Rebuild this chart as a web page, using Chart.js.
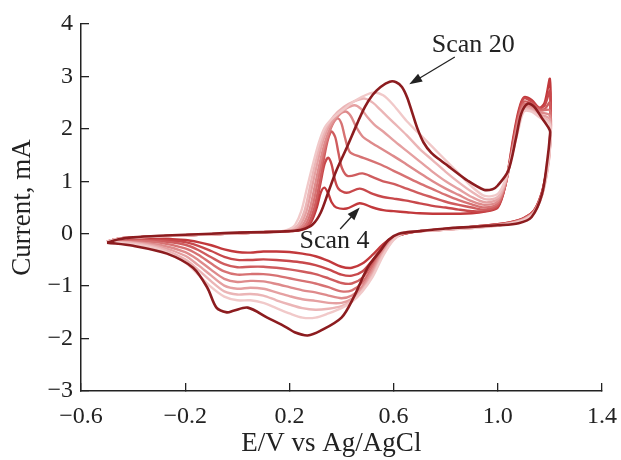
<!DOCTYPE html>
<html>
<head>
<meta charset="utf-8">
<script src="https://cdn.jsdelivr.net/npm/chart.js@4.4.1/dist/chart.umd.min.js"></script>
<style>
  html, body { margin: 0; padding: 0; background: #fff; }
  canvas { display: block; }
</style>
</head>
<body>
<canvas id="cv" width="621" height="460" style="width:621px;height:460px"></canvas>
<script>
// cyclic voltammograms, scans 4..20 (E in V vs Ag/AgCl, I in mA), points in scan order
const scan4 = [[-0.5,-0.15],[-0.45,-0.09],[-0.4,-0.07],[-0.3,-0.05],[-0.2,-0.03],[-0.1,-0.01],[0,0.01],[0.1,0.03],[0.18,0.05],
  [0.24,0.07],[0.28,0.2],[0.305,0.5],[0.32,0.78],[0.334,0.88],[0.348,0.78],[0.362,0.6],[0.38,0.5],[0.42,0.48],[0.47,0.58],[0.52,0.5],
  [0.56,0.45],[0.6,0.43],[0.65,0.41],[0.7,0.39],[0.8,0.38],[0.9,0.39],[0.95,0.42],[1.0,0.5],[1.03,0.95],[1.06,1.85],[1.08,2.35],
  [1.1,2.6],[1.13,2.55],[1.16,2.4],[1.18,2.5],[1.2,2.95],[1.2,1.75],[1.19,1.3],[1.17,0.8],[1.14,0.45],[1.1,0.3],[1.05,0.22],
  [1.0,0.18],[0.9,0.13],[0.8,0.09],[0.7,0.05],[0.64,0.0],[0.6,-0.06],[0.56,-0.2],[0.52,-0.4],[0.48,-0.57],[0.44,-0.65],[0.4,-0.63],
  [0.35,-0.52],[0.3,-0.43],[0.25,-0.38],[0.2,-0.35],[0.15,-0.34],[0.1,-0.34],[0.05,-0.36],[0,-0.35],[-0.05,-0.3],[-0.1,-0.22],
  [-0.15,-0.16],[-0.2,-0.12],[-0.3,-0.1],[-0.4,-0.12],[-0.5,-0.15]];
const scan6 = [[-0.5,-0.15],[-0.45,-0.09],[-0.4,-0.07],[-0.3,-0.05],[-0.2,-0.03],[-0.1,-0.01],[0,0.01],[0.1,0.03],[0.18,0.05],
  [0.235,0.07],[0.275,0.18],[0.3,0.5],[0.32,0.98],[0.335,1.33],[0.349,1.45],[0.362,1.32],[0.374,1.04],[0.388,0.86],[0.42,0.78],
  [0.47,0.86],[0.52,0.76],[0.56,0.7],[0.6,0.67],[0.65,0.63],[0.7,0.58],[0.75,0.53],[0.8,0.5],[0.85,0.46],[0.9,0.43],[0.95,0.43],
  [1.0,0.52],[1.03,0.95],[1.06,1.8],[1.08,2.3],[1.1,2.58],[1.13,2.52],[1.16,2.4],[1.18,2.45],[1.2,2.72],[1.2,1.72],[1.19,1.28],
  [1.17,0.8],[1.14,0.45],[1.1,0.3],[1.05,0.22],[1.0,0.18],[0.9,0.13],[0.8,0.09],[0.7,0.05],[0.64,0.0],[0.6,-0.07],[0.56,-0.24],
  [0.52,-0.5],[0.48,-0.72],[0.44,-0.8],[0.4,-0.78],[0.35,-0.68],[0.3,-0.6],[0.25,-0.55],[0.2,-0.52],[0.15,-0.5],[0.1,-0.49],
  [0.05,-0.5],[0,-0.5],[-0.05,-0.44],[-0.1,-0.33],[-0.15,-0.23],[-0.2,-0.16],[-0.3,-0.12],[-0.4,-0.13],[-0.5,-0.15]];
const scan8 = [[-0.5,-0.15],[-0.45,-0.09],[-0.4,-0.07],[-0.3,-0.05],[-0.2,-0.03],[-0.1,-0.01],[0,0.01],[0.1,0.03],[0.18,0.05],
  [0.23,0.07],[0.27,0.17],[0.295,0.48],[0.315,0.95],[0.333,1.45],[0.348,1.8],[0.362,1.95],[0.376,1.84],[0.388,1.55],[0.402,1.25],
  [0.425,1.1],[0.48,1.15],[0.52,1.08],[0.56,1.0],[0.6,0.95],[0.65,0.86],[0.7,0.77],[0.75,0.69],[0.8,0.61],[0.85,0.55],[0.9,0.5],
  [0.95,0.46],[1.0,0.55],[1.03,0.95],[1.06,1.75],[1.08,2.25],[1.1,2.52],[1.13,2.48],[1.16,2.38],[1.18,2.38],[1.2,2.5],[1.2,1.7],
  [1.19,1.27],[1.17,0.78],[1.14,0.44],[1.1,0.29],[1.05,0.21],[1.0,0.17],[0.9,0.12],[0.8,0.08],[0.7,0.05],[0.64,0.0],[0.6,-0.08],
  [0.56,-0.27],[0.52,-0.57],[0.48,-0.84],[0.44,-0.95],[0.4,-0.94],[0.35,-0.85],[0.3,-0.77],[0.25,-0.72],[0.2,-0.68],[0.15,-0.65],
  [0.1,-0.63],[0.05,-0.63],[0,-0.64],[-0.05,-0.58],[-0.1,-0.45],[-0.15,-0.31],[-0.2,-0.21],[-0.3,-0.14],[-0.4,-0.13],[-0.5,-0.15]];
const scan10 = [[-0.5,-0.15],[-0.45,-0.09],[-0.4,-0.07],[-0.3,-0.05],[-0.2,-0.03],[-0.1,-0.01],[0,0.01],[0.1,0.03],[0.18,0.05],
  [0.22,0.07],[0.26,0.16],[0.285,0.45],[0.305,0.9],[0.325,1.4],[0.345,1.8],[0.365,2.08],[0.385,2.2],[0.4,2.1],[0.413,1.84],
  [0.432,1.56],[0.47,1.47],[0.5,1.42],[0.55,1.32],[0.6,1.2],[0.65,1.08],[0.7,0.96],[0.75,0.85],[0.8,0.74],[0.85,0.64],[0.9,0.56],
  [0.95,0.5],[1.0,0.58],[1.03,0.95],[1.06,1.7],[1.08,2.2],[1.1,2.47],[1.13,2.45],[1.16,2.35],[1.2,2.35],[1.2,1.68],[1.19,1.25],
  [1.17,0.77],[1.14,0.43],[1.1,0.28],[1.05,0.21],[1.0,0.17],[0.9,0.12],[0.8,0.08],[0.7,0.05],[0.64,0.01],[0.6,-0.09],[0.56,-0.3],
  [0.52,-0.63],[0.48,-0.93],[0.44,-1.08],[0.4,-1.1],[0.35,-1.02],[0.3,-0.95],[0.25,-0.9],[0.2,-0.85],[0.15,-0.8],[0.1,-0.77],
  [0.05,-0.77],[0,-0.78],[-0.05,-0.72],[-0.1,-0.57],[-0.15,-0.4],[-0.2,-0.28],[-0.3,-0.17],[-0.4,-0.14],[-0.5,-0.15]];
const scan12 = [[-0.5,-0.15],[-0.45,-0.09],[-0.4,-0.07],[-0.3,-0.05],[-0.2,-0.03],[-0.1,-0.01],[0,0.01],[0.1,0.03],[0.18,0.05],
  [0.215,0.08],[0.25,0.16],[0.275,0.42],[0.295,0.85],[0.315,1.32],[0.335,1.72],[0.36,2.05],[0.39,2.26],[0.415,2.33],[0.435,2.25],
  [0.455,2.05],[0.48,1.86],[0.51,1.75],[0.55,1.63],[0.6,1.48],[0.65,1.32],[0.7,1.16],[0.75,1.0],[0.8,0.86],[0.85,0.74],[0.9,0.62],
  [0.95,0.55],[1.0,0.62],[1.03,0.98],[1.06,1.68],[1.08,2.15],[1.1,2.43],[1.13,2.42],[1.16,2.32],[1.2,2.25],[1.2,1.66],[1.19,1.24],
  [1.17,0.76],[1.14,0.42],[1.1,0.28],[1.05,0.2],[1.0,0.16],[0.9,0.12],[0.8,0.08],[0.7,0.05],[0.64,0.01],[0.6,-0.1],[0.56,-0.33],
  [0.52,-0.68],[0.48,-1.0],[0.44,-1.18],[0.4,-1.23],[0.35,-1.18],[0.3,-1.12],[0.25,-1.08],[0.2,-1.02],[0.15,-0.96],[0.1,-0.91],
  [0.05,-0.9],[0,-0.92],[-0.05,-0.86],[-0.1,-0.69],[-0.15,-0.5],[-0.2,-0.35],[-0.3,-0.21],[-0.4,-0.16],[-0.5,-0.15]];
const scan14 = [[-0.5,-0.15],[-0.45,-0.09],[-0.4,-0.07],[-0.3,-0.05],[-0.2,-0.03],[-0.1,-0.01],[0,0.01],[0.1,0.03],[0.18,0.05],
  [0.21,0.08],[0.24,0.16],[0.265,0.42],[0.285,0.85],[0.305,1.3],[0.325,1.7],[0.35,2.03],[0.38,2.24],[0.415,2.38],[0.45,2.45],
  [0.475,2.38],[0.5,2.22],[0.53,2.06],[0.56,1.95],[0.6,1.78],[0.65,1.58],[0.7,1.38],[0.75,1.18],[0.8,1.0],[0.85,0.85],[0.9,0.7],
  [0.95,0.6],[1.0,0.66],[1.03,1.0],[1.06,1.65],[1.08,2.1],[1.1,2.4],[1.13,2.38],[1.16,2.28],[1.2,2.18],[1.2,1.64],[1.19,1.22],
  [1.17,0.75],[1.14,0.42],[1.1,0.27],[1.05,0.2],[1.0,0.16],[0.9,0.11],[0.8,0.08],[0.7,0.05],[0.64,0.01],[0.6,-0.1],[0.56,-0.36],
  [0.52,-0.73],[0.48,-1.05],[0.44,-1.24],[0.4,-1.32],[0.35,-1.32],[0.3,-1.28],[0.25,-1.25],[0.2,-1.19],[0.15,-1.12],[0.1,-1.05],
  [0.05,-1.03],[0,-1.05],[-0.05,-0.99],[-0.1,-0.8],[-0.15,-0.6],[-0.2,-0.42],[-0.3,-0.24],[-0.4,-0.17],[-0.5,-0.15]];
const scan16 = [[-0.5,-0.15],[-0.45,-0.09],[-0.4,-0.07],[-0.3,-0.05],[-0.2,-0.03],[-0.1,-0.01],[0,0.01],[0.1,0.03],[0.18,0.05],
  [0.205,0.08],[0.232,0.16],[0.257,0.42],[0.277,0.85],[0.297,1.3],[0.318,1.7],[0.342,2.02],[0.37,2.24],[0.41,2.42],[0.45,2.53],
  [0.487,2.58],[0.52,2.5],[0.55,2.36],[0.6,2.12],[0.65,1.88],[0.7,1.62],[0.75,1.4],[0.8,1.18],[0.85,0.98],[0.9,0.8],[0.95,0.66],
  [1.0,0.7],[1.03,1.02],[1.06,1.62],[1.08,2.05],[1.1,2.37],[1.13,2.35],[1.16,2.25],[1.2,2.12],[1.2,1.62],[1.19,1.2],[1.17,0.74],
  [1.14,0.41],[1.1,0.27],[1.05,0.2],[1.0,0.16],[0.9,0.11],[0.8,0.08],[0.7,0.05],[0.64,0.02],[0.6,-0.11],[0.56,-0.39],[0.52,-0.78],
  [0.48,-1.08],[0.44,-1.28],[0.4,-1.38],[0.35,-1.43],[0.3,-1.45],[0.25,-1.42],[0.2,-1.35],[0.15,-1.27],[0.1,-1.18],[0.05,-1.15],
  [0,-1.16],[-0.05,-1.1],[-0.1,-0.91],[-0.15,-0.69],[-0.2,-0.49],[-0.3,-0.27],[-0.4,-0.18],[-0.5,-0.15]];
const scan18 = [[-0.5,-0.15],[-0.45,-0.09],[-0.4,-0.07],[-0.3,-0.05],[-0.2,-0.03],[-0.1,-0.01],[0,0.01],[0.1,0.03],[0.17,0.05],
  [0.2,0.09],[0.222,0.17],[0.245,0.42],[0.268,0.88],[0.29,1.32],[0.312,1.72],[0.335,2.02],[0.365,2.2],[0.41,2.38],[0.46,2.56],
  [0.52,2.69],[0.56,2.64],[0.6,2.45],[0.65,2.15],[0.7,1.9],[0.75,1.65],[0.8,1.4],[0.85,1.15],[0.9,0.9],[0.95,0.72],[1.0,0.76],
  [1.03,1.05],[1.06,1.6],[1.08,2.0],[1.1,2.33],[1.13,2.33],[1.16,2.22],[1.2,2.08],[1.2,1.6],[1.19,1.18],[1.17,0.73],[1.14,0.4],
  [1.1,0.26],[1.05,0.19],[1.0,0.15],[0.9,0.11],[0.8,0.08],[0.7,0.05],[0.64,0.02],[0.6,-0.12],[0.56,-0.42],[0.52,-0.82],[0.48,-1.1],
  [0.44,-1.3],[0.4,-1.42],[0.35,-1.52],[0.3,-1.6],[0.25,-1.6],[0.2,-1.52],[0.15,-1.42],[0.1,-1.32],[0.05,-1.27],[0,-1.27],
  [-0.05,-1.2],[-0.1,-1.02],[-0.15,-0.78],[-0.2,-0.55],[-0.3,-0.3],[-0.4,-0.2],[-0.5,-0.15]];
const scan20 = [[-0.5,-0.17],[-0.45,-0.1],[-0.4,-0.07],[-0.3,-0.04],[-0.2,-0.02],[-0.1,0.0],[0,0.02],[0.1,0.03],[0.2,0.05],
  [0.25,0.08],[0.29,0.18],[0.32,0.4],[0.35,0.8],[0.38,1.2],[0.42,1.64],[0.46,2.1],[0.49,2.42],[0.52,2.65],[0.55,2.8],[0.585,2.9],
  [0.61,2.89],[0.632,2.8],[0.652,2.6],[0.672,2.3],[0.692,2.0],[0.715,1.74],[0.745,1.54],[0.78,1.4],[0.82,1.25],[0.885,1.01],
  [0.946,0.84],[0.98,0.85],[1.0,0.92],[1.04,1.2],[1.07,1.83],[1.09,2.29],[1.115,2.48],[1.14,2.42],[1.17,2.2],[1.2,1.97],[1.2,1.85],
  [1.19,1.4],[1.17,0.76],[1.13,0.32],[1.08,0.2],[1.0,0.16],[0.9,0.13],[0.8,0.1],[0.7,0.05],[0.62,0.0],[0.58,-0.12],[0.55,-0.32],
  [0.5,-0.65],[0.446,-1.22],[0.4,-1.6],[0.32,-1.85],[0.27,-1.94],[0.22,-1.88],[0.19,-1.79],[0.115,-1.6],[0.04,-1.41],[-0.015,-1.47],
  [-0.04,-1.5],[-0.08,-1.41],[-0.115,-1.03],[-0.17,-0.65],[-0.27,-0.38],[-0.4,-0.23],[-0.5,-0.17]];

const scanNames = ['Scan 20', 'Scan 18', 'Scan 16', 'Scan 14', 'Scan 12', 'Scan 10', 'Scan 8', 'Scan 6', 'Scan 4'];
const scanData = [scan20, scan18, scan16, scan14, scan12, scan10, scan8, scan6, scan4];
const scanColors = ['#8c1c1f', '#f1c9c9', '#ebb5b6', '#e5a0a1', '#de8a8b', '#d77273', '#cf5c5e', '#c8484b', '#c2393c'];

const xTicks = [-0.6, -0.2, 0.2, 0.6, 1.0, 1.4];
const yTicks = [-3, -2, -1, 0, 1, 2, 3, 4];

// callouts: text position, arrow tail, arrow head (data units)
const callouts = [
  { text: 'Scan 20', at: [0.906, 3.6], from: [0.835, 3.37], to: [0.66, 2.85] },
  { text: 'Scan 4', at: [0.373, -0.14], from: [0.395, 0.09], to: [0.47, 0.5] }
];

const serif = '"Liberation Serif", "DejaVu Serif", serif';
const ink = '#222';

const calloutPlugin = {
  id: 'callouts',
  afterDatasetsDraw(chart) {
    const { ctx, scales } = chart;
    const sx = v => scales.x.getPixelForValue(v);
    const sy = v => scales.y.getPixelForValue(v);
    ctx.save();
    ctx.font = '26px ' + serif;
    ctx.fillStyle = ink;
    ctx.strokeStyle = ink;
    ctx.textAlign = 'center';
    ctx.textBaseline = 'middle';
    callouts.forEach(c => {
      ctx.fillText(c.text, sx(c.at[0]), sy(c.at[1]));
      const x0 = sx(c.from[0]), y0 = sy(c.from[1]);
      const x1 = sx(c.to[0]), y1 = sy(c.to[1]);
      const a = Math.atan2(y1 - y0, x1 - x0);
      const hl = 13, hw = 4.5;
      ctx.lineWidth = 1.3;
      ctx.beginPath();
      ctx.moveTo(x0, y0);
      ctx.lineTo(x1 - Math.cos(a) * hl * 0.8, y1 - Math.sin(a) * hl * 0.8);
      ctx.stroke();
      ctx.beginPath();
      ctx.moveTo(x1, y1);
      ctx.lineTo(x1 - Math.cos(a) * hl - Math.sin(a) * hw, y1 - Math.sin(a) * hl + Math.cos(a) * hw);
      ctx.lineTo(x1 - Math.cos(a) * hl + Math.sin(a) * hw, y1 - Math.sin(a) * hl - Math.cos(a) * hw);
      ctx.closePath();
      ctx.fill();
    });
    ctx.restore();
  }
};

const minus = s => s.replace('-', '\u2212');

new Chart(document.getElementById('cv'), {
  type: 'scatter',
  data: {
    datasets: scanData.map((d, i) => ({
      label: scanNames[i],
      data: d,
      showLine: true,
      borderColor: scanColors[i],
      borderWidth: i === 0 ? 2.6 : 2.4,
      pointRadius: 0,
      tension: 0.3,
      fill: false
    }))
  },
  options: {
    responsive: false,
    animation: false,
    layout: { padding: { left: 0, right: 19, top: 24, bottom: 0 } },
    plugins: { legend: { display: false }, tooltip: { enabled: false } },
    scales: {
      x: {
        type: 'linear',
        min: -0.6, max: 1.4,
        afterBuildTicks: s => { s.ticks = xTicks.map(v => ({ value: v })); },
        afterFit: s => { s.height = 69; s.paddingLeft = 0; s.paddingRight = 0; },
        grid: { drawOnChartArea: false, tickLength: -8, color: ink, lineWidth: 1.3 },
        border: { display: true, color: ink, width: 1.5 },
        ticks: { color: ink, font: { family: serif, size: 24 }, padding: 19, callback: v => minus(v.toFixed(1)), maxRotation: 0 },
        // trailing spaces nudge the centred title left, as in the original
        title: { display: true, text: 'E/V vs Ag/AgCl\u00a0\u00a0\u00a0', color: ink, font: { family: serif, size: 27 }, padding: { top: 0, bottom: 0 } }
      },
      y: {
        type: 'linear',
        min: -3, max: 4,
        afterBuildTicks: s => { s.ticks = yTicks.map(v => ({ value: v })); },
        afterFit: s => { s.width = 81; s.paddingTop = 0; s.paddingBottom = 0; },
        grid: { drawOnChartArea: false, tickLength: -8, color: ink, lineWidth: 1.3 },
        border: { display: true, color: ink, width: 1.5 },
        ticks: { color: ink, font: { family: serif, size: 24 }, padding: 16, callback: v => minus(String(v)) },
        title: { display: true, text: 'Current, mA', color: ink, font: { family: serif, size: 27 }, padding: { top: 7, bottom: 0 } }
      }
    }
  },
  plugins: [calloutPlugin]
});
</script>
</body>
</html>
